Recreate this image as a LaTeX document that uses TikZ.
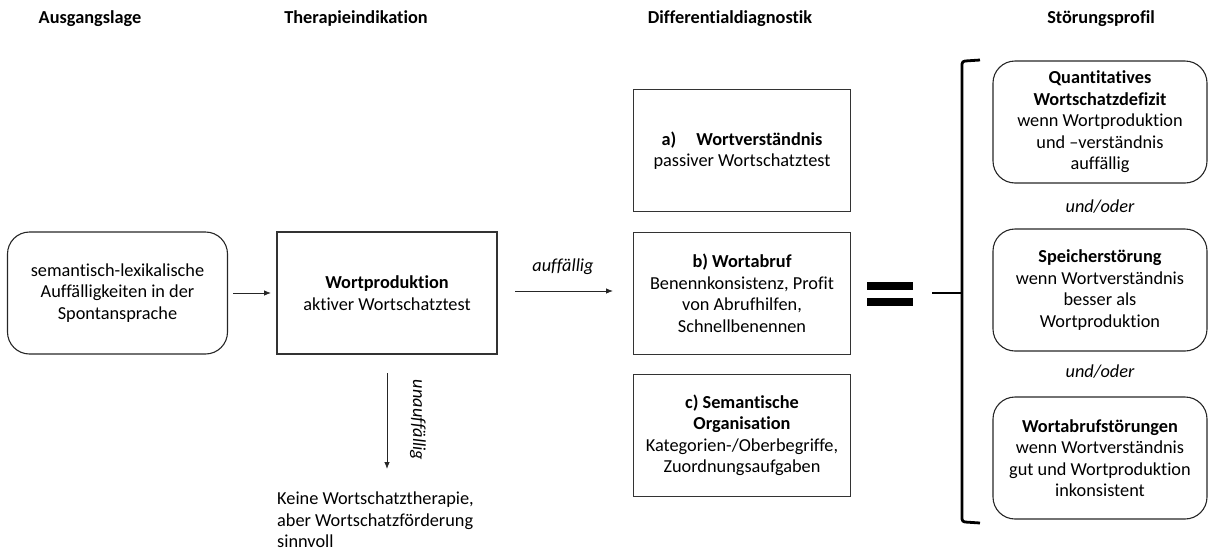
\documentclass[tikz,border=0pt]{standalone}
\usepackage{fontspec}
\setmainfont{Carlito}[Ligatures=NoCommon]
\usetikzlibrary{arrows.meta}
\begin{document}
\begin{tikzpicture}[x=1pt,y=-1pt,
  every node/.style={font=\fontsize{18.3}{21.5}\selectfont, align=center, inner sep=0pt},
  head/.style={font=\fontsize{18.3}{21.5}\selectfont\bfseries},
  sqbox/.style={draw=black!80, line width=1.1pt, minimum width=#1, minimum height=122},
  rbox/.style={draw=black!85, line width=1.1pt, rounded corners=22pt, minimum width=#1, minimum height=122},
  arr/.style={draw=black!85, line width=0.8pt, -{Latex[length=7pt,width=5.5pt]}},
  lbl/.style={font=\fontsize{18.3}{21.5}\selectfont\itshape}
]
\useasboundingbox (0,0) rectangle (1208,555);
% headers
\node[head] (h1) at (90,19) {Ausgangslage};
\node[head] (h2) at (356,19) {Therapieindikation};
\node[head] (h3) at (730,19) {Differentialdiagnostik};
\node[head] (h4) at (1101,19) {Störungsprofil};
% left column
\node[rbox=220] (aus) at (117.5,293) {semantisch-lexikalische\\Auffälligkeiten in der\\Spontansprache};
\node[sqbox=220] (wp) at (387,293) {\textbf{Wortproduktion}\\aktiver Wortschatztest};
\node[anchor=north west, align=left] (keine) at (277,492) {Keine Wortschatztherapie,\\aber Wortschatzförderung\\sinnvoll};
% differential
\node[sqbox=217] (a) at (742,150.5) {\textbf{a)\hspace{1.1em}Wortverständnis}\\passiver Wortschatztest};
\node[sqbox=217] (b) at (742,293.5) {\textbf{b) Wortabruf}\\Benennkonsistenz, Profit\\von Abrufhilfen,\\Schnellbenennen};
\node[sqbox=217] (c) at (742,435.5) {\textbf{c) Semantische}\\\textbf{Organisation}\\Kategorien-/Oberbegriffe,\\Zuordnungsaufgaben};
% arrows
\coordinate (a1s) at (233,292);
\coordinate (a1e) at (271,292);
\draw[arr] (aus.east -| a1s) -- (aus.east -| a1e);
\coordinate (d1) at (387,373);
\coordinate (d2) at (387,469);
\draw[arr] (d1) -- (d2);
\node[lbl, rotate=-90] (unauf) at (418,420) {unauffällig};
\coordinate (r1) at (515,291);
\coordinate (r2) at (613,291);
\draw[arr] (r1) -- (r2);
\node[lbl] (auff) at (563,267) {auffällig};
% equals sign
\node[fill=black, minimum width=46, minimum height=8] (eq1) at (890,286) {};
\node[fill=black, minimum width=46, minimum height=8] (eq2) at (890,301.5) {};
\coordinate (eqc) at (890,293.5);
% bracket
\coordinate (bt) at (980,60);
\coordinate (bb) at (980,523);
\coordinate (bm) at (962,293);
\draw[line width=2.8pt, line join=round] (bt) -- (965,61) to[out=180,in=90] (962,64) -- (962,519) to[out=-90,in=180] (965,522) -- (bb);
\draw[line width=2.8pt] (932,293) -- (bm);
% right column
\node[rbox=214] (q) at (1100,122) {\textbf{Quantitatives}\\\textbf{Wortschatzdefizit}\\wenn Wortproduktion\\und –verständnis\\auffällig};
\node[lbl] (uo1) at (1100,207) {und/oder};
\node[rbox=214] (s) at (1100,290) {\textbf{Speicherstörung}\\wenn Wortverständnis\\besser als\\Wortproduktion};
\node[lbl] (uo2) at (1100,372) {und/oder};
\node[rbox=214] (w) at (1100,458) {\textbf{Wortabrufstörungen}\\wenn Wortverständnis\\gut und Wortproduktion\\inkonsistent};
\end{tikzpicture}
\end{document}
